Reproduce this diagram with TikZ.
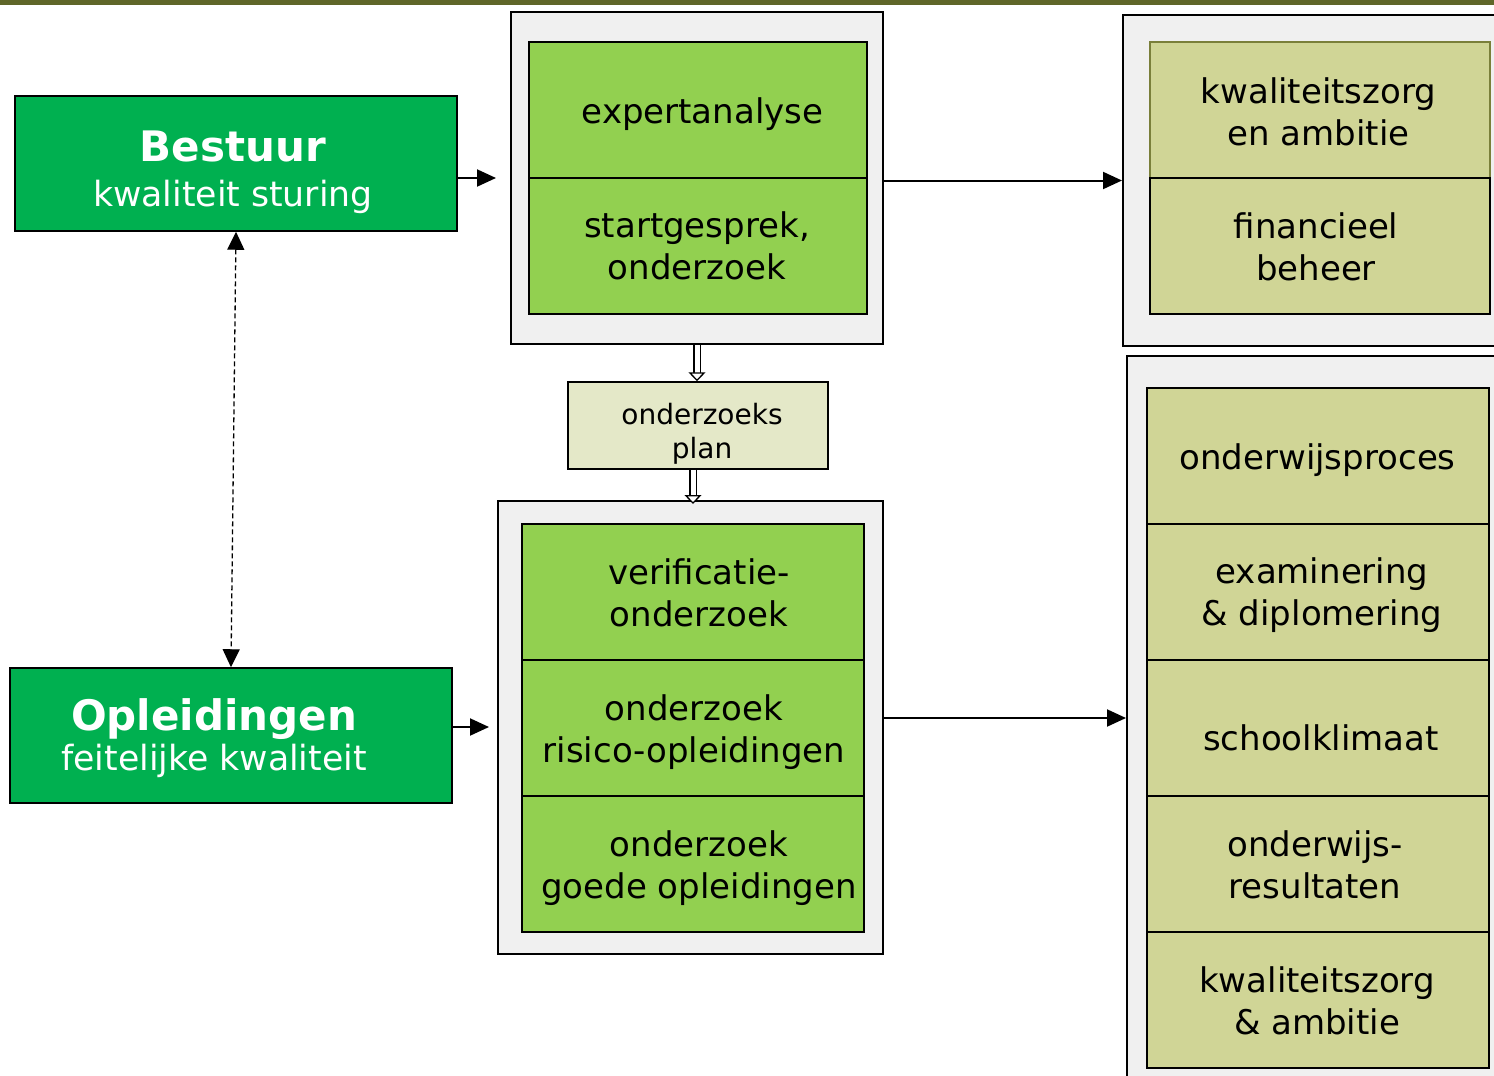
\documentclass[tikz,border=0pt]{standalone}
\usepackage{fontspec}
\setmainfont{DejaVu Sans}
\usetikzlibrary{arrows.meta}
\definecolor{topbar}{HTML}{5F6629}
\definecolor{dgreen}{HTML}{00B050}
\definecolor{lgreen}{HTML}{92D050}
\definecolor{olivel}{HTML}{D0D596}
\definecolor{planc}{HTML}{E4E8C8}
\definecolor{outerc}{HTML}{F0F0F0}
\definecolor{oliveb}{HTML}{7A7F3A}
\newcommand\twol[2]{\begin{tabular}[b]{@{}c@{}}#1\\#2\end{tabular}}
\begin{document}
\begin{tikzpicture}[x=1pt,y=-1pt,
  outerbox/.style={draw=black, line width=2pt, fill=outerc, inner sep=0pt},
  headbox/.style={draw=black, line width=1.5pt, fill=dgreen, inner sep=0pt,
    minimum width=442pt, minimum height=135pt},
  greenbox/.style={draw=black, line width=1.5pt, fill=lgreen, inner sep=0pt, minimum height=136pt},
  olivebox/.style={draw=black, line width=1.5pt, fill=olivel, inner sep=0pt,
    minimum width=340pt, minimum height=136pt},
  planbox/.style={draw=black, line width=1.5pt, fill=planc, inner sep=0pt,
    minimum width=260pt, minimum height=87pt},
  lbl/.style={anchor=base, inner sep=0pt, font=\fontsize{34}{42}\selectfont},
  headlbl/.style={anchor=base, inner sep=0pt, text=white},
  planlbl/.style={anchor=base, inner sep=0pt, font=\fontsize{28}{34}\selectfont},
  arr/.style={line width=2pt, -{Triangle[length=19pt,width=17pt]}},
  dasharr/.style={line width=1.3pt, dash pattern=on 5pt off 3pt,
    {Triangle[length=18pt,width=17pt]}-{Triangle[length=18pt,width=17pt]}},
  hollowarr/.style={double, double distance=5pt, line width=1.3pt,
    -{Triangle[open, fill=white, length=9pt, width=17pt, line width=1.3pt]}}
]
\useasboundingbox (0,0) rectangle (1494,1076);
\clip (0,0) rectangle (1494,1076);
\fill[topbar] (0,0) rectangle (1494,5);

% left boxes
\node[headbox] (best) at (236,163.5) {};
\node[headbox] (opl) at (231,735.5) {};
\node[headlbl, font=\fontsize{34.7}{45}\selectfont] (tbest) at (233,206)
  {\twol{\smash{\fontsize{42}{45}\selectfont\bfseries Bestuur}}{kwaliteit sturing}};
\node[headlbl, font=\fontsize{34.7}{40}\selectfont] (topl) at (214,770.7)
  {\twol{\smash{\fontsize{42}{40}\selectfont\bfseries Opleidingen}}{feitelijke kwaliteit}};

% outer panels
\node[outerbox, minimum width=372pt, minimum height=332pt] (o1) at (697,178) {};
\node[outerbox, minimum width=380pt, minimum height=331pt] (o2) at (1313,180.5) {};
\node[outerbox, minimum width=385pt, minimum height=453pt] (o3) at (690.5,727.5) {};
\node[outerbox, minimum width=380pt, minimum height=724pt] (o4) at (1317,718) {};

% panel 1
\node[greenbox, minimum width=338pt] (e1) at (698,110) {};
\node[greenbox, minimum width=338pt] (e2) at (698,246) {};
\node[lbl] (te1) at (702.5,123.7) {expertanalyse};
\node[lbl] (te2) at (697,279) {\twol{startgesprek,}{onderzoek}};

% panel 2
\node[olivebox, draw=oliveb] (k1) at (1320,110) {};
\node[olivebox] (k2) at (1320,246) {};
\node[lbl] (tk1) at (1318.5,145) {\twol{kwaliteitszorg}{en ambitie}};
\node[lbl] (tk2) at (1316,280) {\twol{financieel}{beheer}};

% plan
\node[planbox] (plan) at (698,425.5) {};
\node[planlbl] (tplan) at (702,458) {\twol{onderzoeks}{plan}};

% panel 3
\node[greenbox, minimum width=342pt] (v1) at (693,592) {};
\node[greenbox, minimum width=342pt] (v2) at (693,728) {};
\node[greenbox, minimum width=342pt] (v3) at (693,864) {};
\node[lbl] (tv1) at (699,626) {\twol{verificatie-}{onderzoek}};
\node[lbl] (tv2) at (694,762) {\twol{onderzoek}{risico-opleidingen}};
\node[lbl] (tv3) at (699,898) {\twol{onderzoek}{goede opleidingen}};

% panel 4
\node[olivebox, minimum width=342pt] (s1) at (1318,456) {};
\node[olivebox, minimum width=342pt] (s2) at (1318,592) {};
\node[olivebox, minimum width=342pt] (s3) at (1318,728) {};
\node[olivebox, minimum width=342pt] (s4) at (1318,864) {};
\node[olivebox, minimum width=342pt] (s5) at (1318,1000) {};
\node[lbl] (ts1) at (1317.5,469.7) {onderwijsproces};
\node[lbl] (ts2) at (1322,625) {\twol{examinering}{\& diplomering}};
\node[lbl] (ts3) at (1321,750.7) {schoolklimaat};
\node[lbl] (ts4) at (1315,898) {\twol{onderwijs-}{resultaten}};
\node[lbl] (ts5) at (1317,1034) {\twol{kwaliteitszorg}{\& ambitie}};

% connectors
\draw[arr, shorten >=14pt] (best.east |- o1.west) -- (o1.west);
\draw[arr, shorten >=8pt] ([yshift=8.5pt]opl.east) -- ([yshift=8.5pt]opl.east -| o3.west);
\draw[arr] (o1.east |- o2.west) -- (o2.west);
\draw[arr] (o3.east |- o4.west) -- (o4.west);
\draw[dasharr] (best.south) -- (opl.north);
\draw[hollowarr] (o1.south) -- (o1.south |- plan.north);
\draw[hollowarr] ([xshift=-5pt]plan.south) -- ([xshift=-5pt,yshift=-4pt]plan.south |- o3.north);
\end{tikzpicture}
\end{document}
